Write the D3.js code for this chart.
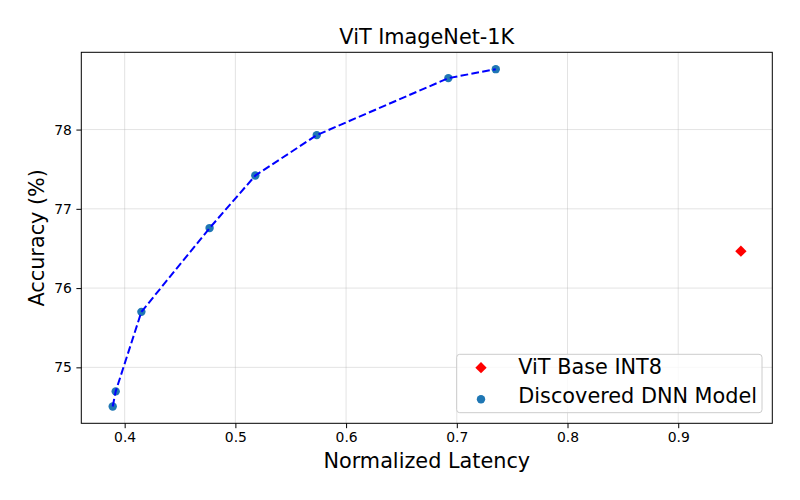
<!DOCTYPE html>
<html>
<head>
<meta charset="utf-8">
<script src="https://cdn.jsdelivr.net/npm/d3@7"></script>
<style>
  body { margin: 0; background: #fff; }
  text { font-family: "DejaVu Sans", sans-serif; fill: #000; }
</style>
</head>
<body>
<svg id="plot"></svg>
<script>
// Discovered models (normalized latency vs top-1 accuracy)
const latency = [0.3892, 0.3919, 0.4151, 0.4767, 0.518, 0.5735, 0.6924, 0.7352];
const accuracy = [74.507, 74.697, 75.70, 76.757, 77.42, 77.93, 78.649, 78.762];

// Baseline model
const baseLatency = [0.9566];
const baseAccuracy = [76.466];

const xTicks = [0.4, 0.5, 0.6, 0.7, 0.8, 0.9];
const yTicks = [75, 76, 77, 78];

// Figure and axes box
const W = 800, H = 500;
const margin = { top: 52.3, right: 27.7, bottom: 76.7, left: 81.3 };
const width = W - margin.left - margin.right;
const height = H - margin.top - margin.bottom;

const svg = d3.select("#plot")
    .attr("width", W)
    .attr("height", H)
    .style("background", "#FFFFFF");

const g = svg.append("g")
    .attr("transform", "translate(" + margin.left + "," + margin.top + ")");

// matplotlib-like 5% margins around the data
const allX = latency.concat(baseLatency);
const allY = accuracy.concat(baseAccuracy);
const xPad = (d3.max(allX) - d3.min(allX)) * 0.05;
const yPad = (d3.max(allY) - d3.min(allY)) * 0.05;

const x = d3.scaleLinear()
    .domain([d3.min(allX) - xPad, d3.max(allX) + xPad])
    .range([0, width]);

const y = d3.scaleLinear()
    .domain([d3.min(allY) - yPad, d3.max(allY) + yPad])
    .range([height, 0]);

// Grid
g.append("g")
    .selectAll("line")
    .data(xTicks)
    .enter().append("line")
    .attr("x1", d => x(d)).attr("x2", d => x(d))
    .attr("y1", 0).attr("y2", height)
    .attr("stroke", "#b0b0b0").attr("stroke-opacity", 0.35).attr("stroke-width", 1);

g.append("g")
    .selectAll("line")
    .data(yTicks)
    .enter().append("line")
    .attr("x1", 0).attr("x2", width)
    .attr("y1", d => y(d)).attr("y2", d => y(d))
    .attr("stroke", "#b0b0b0").attr("stroke-opacity", 0.35).attr("stroke-width", 1);

// Axes
const xAxis = g.append("g")
    .attr("transform", "translate(0," + height + ")")
    .call(d3.axisBottom(x).tickValues(xTicks).tickFormat(d3.format(".1f")).tickSize(4.9).tickPadding(3.5));

const yAxis = g.append("g")
    .call(d3.axisLeft(y).tickValues(yTicks).tickFormat(d3.format("d")).tickSize(4.9).tickPadding(4.5));

[xAxis, yAxis].forEach(a => {
  a.select(".domain").remove();
  a.selectAll("text").style("font-size", "13.9px").style("font-family", "DejaVu Sans").attr("fill", "#000");
  a.selectAll("line").attr("stroke", "#000").attr("stroke-width", 1);
});

// Scatter of discovered models (drawn below the line, as in matplotlib)
const pts = latency.map((d, i) => ({ x: d, y: accuracy[i] }));

g.selectAll(".dot")
    .data(pts)
    .enter().append("circle")
    .attr("class", "dot")
    .attr("cx", d => x(d.x))
    .attr("cy", d => y(d.y))
    .attr("r", 4.2)
    .attr("fill", "#1f77b4");

// Dashed frontier line
const line = d3.line().x(d => x(d.x)).y(d => y(d.y));
g.append("path")
    .datum(pts)
    .attr("d", line)
    .attr("fill", "none")
    .attr("stroke", "blue")
    .attr("stroke-width", 2)
    .attr("stroke-dasharray", "7.7,3.3");

// Baseline diamond
g.selectAll(".base")
    .data(baseLatency.map((d, i) => ({ x: d, y: baseAccuracy[i] })))
    .enter().append("path")
    .attr("class", "base")
    .attr("d", d3.symbol().type(d3.symbolSquare).size(64))
    .attr("transform", d => "translate(" + x(d.x) + "," + y(d.y) + ") rotate(45)")
    .attr("fill", "red");

// Frame
g.append("rect")
    .attr("width", width).attr("height", height)
    .attr("fill", "none").attr("stroke", "#000").attr("stroke-width", 1);

// Title and axis labels
svg.append("text")
    .attr("x", margin.left + width / 2)
    .attr("y", 43.5)
    .attr("text-anchor", "middle")
    .style("font-size", "20.8px")
    .text("ViT ImageNet-1K");

svg.append("text")
    .attr("x", margin.left + width / 2)
    .attr("y", 467.5)
    .attr("text-anchor", "middle")
    .style("font-size", "20.8px")
    .text("Normalized Latency");

svg.append("text")
    .attr("transform", "translate(44," + (margin.top + height / 2) + ") rotate(-90)")
    .attr("text-anchor", "middle")
    .style("font-size", "20.8px")
    .text("Accuracy (%)");

// Legend
const legend = svg.append("g").attr("transform", "translate(456.7,354.3)");
legend.append("rect")
    .attr("width", 305.3).attr("height", 58.4)
    .attr("rx", 3).attr("ry", 3)
    .attr("fill", "#fff").attr("fill-opacity", 0.8)
    .attr("stroke", "#cccccc").attr("stroke-width", 1);

legend.append("path")
    .attr("d", d3.symbol().type(d3.symbolSquare).size(64))
    .attr("transform", "translate(24.3,13.4) rotate(45)")
    .attr("fill", "red");
legend.append("text")
    .attr("x", 61.6).attr("y", 19.7)
    .style("font-size", "20.8px")
    .text("ViT Base INT8");

legend.append("circle")
    .attr("cx", 24.3).attr("cy", 45)
    .attr("r", 4.2)
    .attr("fill", "#1f77b4");
legend.append("text")
    .attr("x", 61.6).attr("y", 49)
    .style("font-size", "20.8px")
    .text("Discovered DNN Model");
</script>
</body>
</html>
